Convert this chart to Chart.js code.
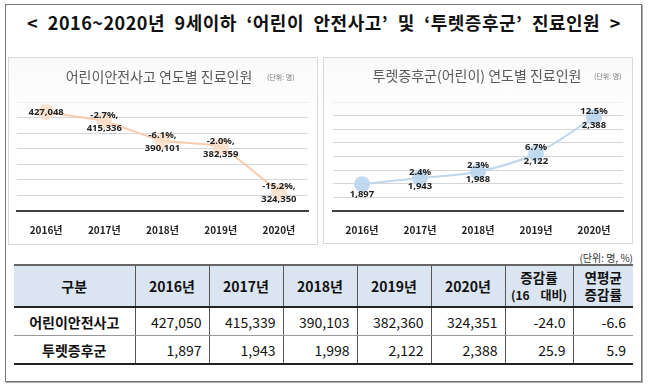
<!DOCTYPE html>
<html><head><meta charset="utf-8">
<script src="https://cdn.jsdelivr.net/npm/chart.js@4.4.1/dist/chart.umd.min.js"></script>
<style>
html,body{margin:0;padding:0;background:#fff}
body{width:650px;height:390px;position:relative;overflow:hidden;font-family:"Noto Sans CJK KR","Noto Sans",sans-serif;color:#111}
.abs{position:absolute}
#frame{left:5px;top:4px;width:637px;height:378px;border:1px solid #777;box-sizing:border-box;box-shadow:1px 1px 0 #aaa}
#title{left:0;top:8px;width:648px;text-align:center;font-weight:bold;font-size:18px;line-height:28px;word-spacing:5px;letter-spacing:0.5px;white-space:nowrap}
.panel{border:1px solid #d9d9d9;box-sizing:border-box;background:linear-gradient(#fafafa,#ffffff 40%)}
.ctitle{font-size:14px;color:#595959;line-height:18px;white-space:nowrap;text-align:center}
.unit{font-size:7px;color:#777;line-height:10px;white-space:nowrap}
canvas{position:absolute}
#unitT{right:17px;top:252px;font-size:10px;color:#333;line-height:12px}
#tbl{position:absolute;left:14px;top:264px;width:619px;border-collapse:collapse;table-layout:fixed}
#tbl th{background:#dbe5f1;height:40px;font-size:14px;font-weight:bold;border-left:1px solid #555;border-top:2px solid #666;border-bottom:2px solid #222;padding:0;line-height:17px}
#tbl th.small{font-size:13.5px}
#tbl th .sub{font-size:12px;word-spacing:8px}
#tbl td{height:27px;font-size:14px;text-align:right;padding:0 7px 0 0;border-left:1px solid #555;border-bottom:1px solid #999;line-height:20px}
#tbl tr.last td{border-bottom:2px solid #222}
#tbl td.name{text-align:center;font-weight:bold;padding:0}
#tbl th:first-child,#tbl td:first-child{border-left:none}
</style></head>
<body>
<div id="frame" class="abs"></div>
<div id="title" class="abs">&lt; 2016~2020년 9세이하 ‘어린이 안전사고’ 및 ‘투렛증후군’ 진료인원 &gt;</div>

<div class="abs panel" style="left:8px;top:57px;width:310px;height:188px"></div>
<div class="abs panel" style="left:323px;top:57px;width:310px;height:187px"></div>

<canvas id="c1" width="308" height="186" style="left:9px;top:58px"></canvas>
<canvas id="c2" width="308" height="186" style="left:324px;top:58px"></canvas>

<div class="abs ctitle" style="left:59px;top:67px;width:200px">어린이안전사고 연도별 진료인원</div>
<div class="abs unit" style="left:267px;top:72px">(단위: 명)</div>
<div class="abs ctitle" style="left:362px;top:66px;width:230px">투렛증후군(어린이) 연도별 진료인원</div>
<div class="abs unit" style="left:594px;top:71px">(단위: 명)</div>

<div id="unitT" class="abs">(단위: 명, %)</div>
<table id="tbl"></table>

<script>
// ---- chart data ----
const years = ['2016년', '2017년', '2018년', '2019년', '2020년'];
const safetyValues = [427048, 415336, 390101, 382359, 324350];
const safetyChange = ['', '-2.7%,', '-6.1%,', '-2.0%,', '-15.2%,'];
const safetyAxis = [300000, 440000, 20000];
const touretteValues = [1897, 1943, 1988, 2122, 2388];
const touretteChange = ['', '2.4%', '2.3%', '6.7%', '12.5%'];
const touretteAxis = [1700, 2500, 100];

// ---- table data ----
const tableCols = ['구분', '2016년', '2017년', '2018년', '2019년', '2020년'];
const rowNames = ['어린이안전사고', '투렛증후군'];
const safetyTable = [427050, 415339, 390103, 382360, 324351];
const touretteTable = [1897, 1943, 1998, 2122, 2388];
const changeRate = [-24.0, 25.9];
const avgRate = [-6.6, 5.9];

const labelPlugin = {
  id: 'ptLabels',
  afterDatasetsDraw(chart) {
    const o = chart.options.plugins.ptLabels;
    const ctx = chart.ctx;
    const meta = chart.getDatasetMeta(0);
    const vals = chart.data.datasets[0].data;
    ctx.save();
    ctx.font = 'bold 9.5px "Noto Sans", "Noto Sans CJK KR", sans-serif';
    ctx.fillStyle = '#222';
    ctx.textAlign = 'center';
    ctx.textBaseline = 'middle';
    meta.data.forEach((pt, i) => {
      const v = vals[i].toLocaleString('en-US');
      if (o.change[i]) {
        ctx.fillText(o.change[i], pt.x, pt.y + o.up);
        ctx.fillText(v, pt.x, pt.y + o.down);
      } else {
        ctx.fillText(v, pt.x, pt.y + o.first);
      }
    });
    ctx.restore();
  }
};

function makeChart(id, values, change, axis, lineColor, ptColor, pad, offs, tension) {
  return new Chart(document.getElementById(id), {
    type: 'line',
    data: { labels: years, datasets: [{
      data: values, borderColor: lineColor, borderWidth: 2, tension: tension,
      pointRadius: 8, pointHoverRadius: 8, pointBackgroundColor: ptColor, pointBorderWidth: 0, clip: false
    }]},
    plugins: [labelPlugin],
    options: {
      responsive: false, animation: false, devicePixelRatio: 1,
      layout: { padding: { left: pad[0], right: pad[1], top: 44, bottom: 0 } },
      plugins: { legend: { display: false }, tooltip: { enabled: false }, title: { display: false },
        ptLabels: { change: change, up: offs[0], down: offs[1], first: offs[2] } },
      scales: {
        x: {
          offset: true,
          grid: { display: false, drawTicks: false },
          border: { display: true, color: '#404040', width: 2 },
          ticks: { padding: 13, color: '#222', font: { family: '"Noto Sans CJK KR", sans-serif', size: 10, weight: 'bold' } },
          afterFit(s) { s.height = 33; }
        },
        y: {
          min: axis[0], max: axis[1],
          ticks: { display: false, stepSize: axis[2] },
          grid: { drawTicks: false, lineWidth: 1,
            color: c => (c.tick && c.tick.value === axis[1]) ? '#eeeeee' : '#d6d6d6' },
          border: { display: false },
          afterFit(s) { s.width = 0; }
        }
      }
    }
  });
}

makeChart('c1', safetyValues, safetyChange, safetyAxis, '#f8cbad', 'rgba(252,222,200,0.85)', [8, 9], [-6, 7, 0], 0.15);
makeChart('c2', touretteValues, touretteChange, touretteAxis, '#bdd7ee', 'rgba(189,215,238,0.95)', [9, 9], [-6, 8, 10], 0.35);

// ---- table ----
const tbl = document.getElementById('tbl');
const widths = [121, 74, 74, 74, 74, 74, 68, 60];
let html = '<colgroup>' + widths.map(w => `<col style="width:${w}px">`).join('') + '</colgroup>';
html += '<tr>' + tableCols.map(c => `<th>${c}</th>`).join('') +
  '<th class="small">증감률<br><span class="sub">(16 대비)</span></th><th class="small">연평균<br>증감률</th></tr>';
const tRows = [safetyTable, touretteTable];
rowNames.forEach((n, r) => {
  html += `<tr class="${r === rowNames.length - 1 ? 'last' : ''}"><td class="name">${n}</td>` +
    tRows[r].map(v => `<td>${v.toLocaleString('en-US')}</td>`).join('') +
    `<td>${changeRate[r].toFixed(1)}</td><td>${avgRate[r].toFixed(1)}</td></tr>`;
});
tbl.innerHTML = html;
</script>
</body></html>
